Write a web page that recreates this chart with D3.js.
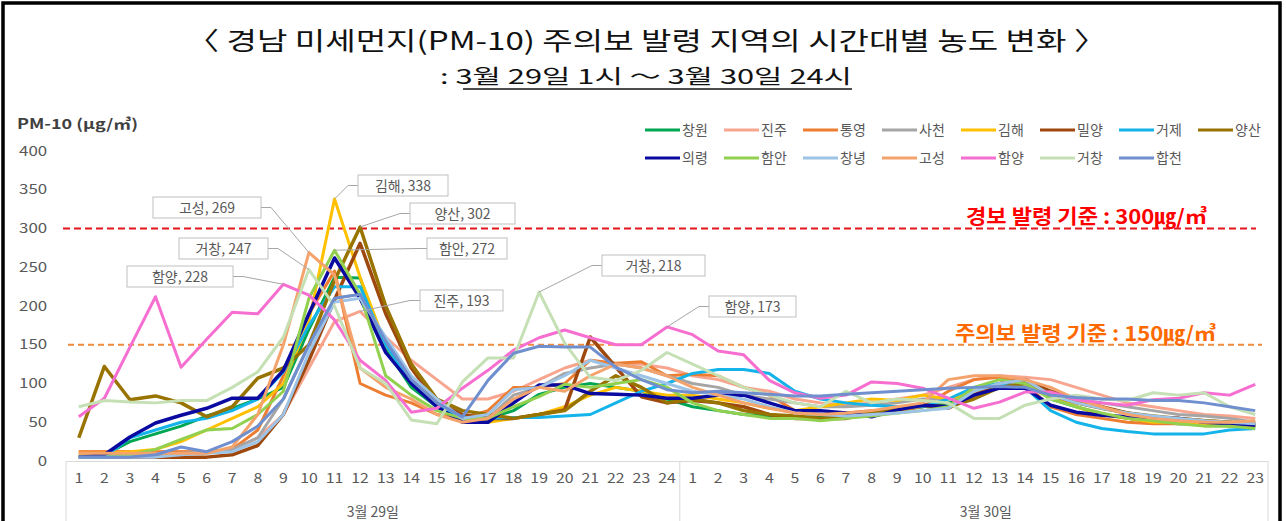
<!DOCTYPE html>
<html>
<head>
<meta charset="utf-8">
<script src="https://cdn.jsdelivr.net/npm/d3@7/dist/d3.min.js"></script>
<style>
body { margin: 0; background: #fff; }
text { font-family: "Noto Sans CJK KR", "Noto Sans", sans-serif; }
</style>
</head>
<body>
<svg width="1286" height="521"></svg>
<script>
// hours on the x axis : 3/29 1..24 , 3/30 1..23
var day1Hours = d3.range(1, 25)
var day2Hours = d3.range(1, 24)
var dayLabels = ["3월 29일", "3월 30일"]
var yTicks = [0, 50, 100, 150, 200, 250, 300, 350, 400]

var names = ["창원", "진주", "통영", "사천", "김해", "밀양", "거제", "양산",
             "의령", "함안", "창녕", "고성", "함양", "거창", "합천"]
var colors = ["#00a651", "#f8a58f", "#ed7d31", "#a5a5a5", "#ffc000", "#9e480e", "#14b4eb", "#997300",
              "#0a0aa0", "#92d050", "#9dc3e6", "#f4a36c", "#f66fd0", "#c5e0b4", "#6f8fcf"]

var changwon = [5, 8, 25, 35, 45, 58, 68, 80, 95, 170, 237, 236, 145, 95, 70, 58, 55, 65, 86, 95, 100, 95, 90, 80,
                70, 65, 60, 58, 56, 58, 60, 62, 65, 70, 75, 85, 100, 105, 80, 70, 60, 55, 50, 48, 48, 45, 45]
var jinju = [12, 12, 12, 12, 12, 12, 15, 30, 60, 120, 180, 193, 160, 130, 105, 80, 80, 90, 105, 120, 130, 124, 125, 120,
             110, 105, 95, 90, 80, 75, 72, 75, 80, 85, 95, 105, 110, 108, 105, 95, 85, 75, 70, 65, 60, 58, 55]
var tongyeong = [12, 12, 12, 12, 12, 12, 15, 40, 110, 190, 245, 100, 85, 75, 60, 55, 65, 95, 95, 100, 130, 126, 128, 110,
                 112, 110, 95, 85, 65, 60, 62, 65, 65, 70, 90, 105, 108, 100, 70, 60, 55, 50, 48, 48, 48, 48, 50]
var sacheon = [8, 8, 8, 8, 10, 12, 15, 30, 80, 150, 210, 215, 150, 105, 80, 60, 55, 85, 95, 113, 120, 125, 120, 110,
               100, 95, 85, 80, 75, 70, 70, 72, 75, 80, 80, 85, 95, 100, 90, 80, 75, 70, 65, 60, 58, 55, 50]
var gimhae = [10, 10, 12, 15, 25, 40, 55, 70, 100, 180, 338, 237, 150, 100, 70, 58, 50, 55, 60, 70, 85, 95, 90, 85,
              85, 80, 75, 68, 65, 70, 75, 80, 78, 85, 80, 90, 100, 105, 85, 70, 60, 55, 50, 50, 48, 45, 45]
var miryang = [5, 5, 5, 5, 5, 5, 8, 20, 60, 130, 208, 281, 190, 120, 75, 60, 55, 55, 60, 66, 160, 121, 83, 75,
               78, 75, 70, 60, 55, 55, 55, 62, 68, 72, 68, 85, 100, 105, 90, 80, 70, 62, 55, 55, 52, 50, 45]
var geoje = [5, 5, 30, 40, 50, 55, 65, 80, 115, 175, 225, 225, 150, 100, 70, 56, 55, 56, 56, 58, 60, 75, 90, 100,
             113, 118, 118, 113, 90, 80, 75, 72, 70, 70, 80, 95, 100, 95, 65, 50, 42, 38, 35, 35, 35, 40, 42]
var yangsan = [30, 122, 79, 84, 75, 57, 70, 107, 120, 150, 233, 302, 200, 125, 80, 65, 60, 55, 60, 65, 90, 110, 95, 75,
               80, 75, 65, 60, 58, 55, 58, 62, 68, 72, 70, 80, 95, 100, 85, 75, 68, 62, 58, 55, 52, 50, 48]
var uiryeong = [5, 8, 31, 49, 59, 68, 81, 81, 117, 190, 262, 210, 140, 100, 70, 50, 50, 75, 98, 98, 87, 86, 85, 81,
                81, 85, 85, 75, 65, 65, 62, 57, 66, 72, 70, 85, 94, 94, 72, 63, 59, 57, 55, 55, 50, 48, 46]
var haman = [5, 5, 8, 15, 28, 40, 42, 60, 90, 210, 272, 215, 110, 85, 65, 55, 55, 70, 83, 99, 95, 100, 105, 95,
             75, 65, 60, 55, 55, 52, 55, 58, 62, 65, 70, 95, 105, 100, 80, 70, 62, 55, 52, 48, 45, 45, 42]
var changnyeong = [5, 5, 5, 5, 8, 10, 12, 25, 60, 140, 205, 210, 160, 110, 80, 55, 60, 92, 95, 110, 130, 120, 110, 100,
                   90, 85, 80, 70, 62, 60, 58, 60, 62, 65, 68, 90, 100, 105, 85, 75, 68, 62, 58, 55, 52, 50, 48]
var goseong = [10, 10, 10, 10, 10, 10, 18, 60, 150, 269, 240, 120, 95, 80, 60, 50, 55, 80, 95, 90, 110, 125, 120, 110,
               95, 85, 75, 68, 62, 60, 62, 65, 70, 75, 105, 110, 110, 105, 95, 80, 70, 60, 55, 52, 50, 50, 52]
var hamyang = [57, 81, 147, 212, 121, 157, 192, 190, 228, 214, 182, 130, 104, 63, 68, 94, 117, 143, 159, 169, 159, 150, 150, 173,
               163, 142, 137, 104, 88, 81, 85, 102, 100, 94, 81, 68, 76, 89, 89, 79, 75, 72, 79, 81, 88, 85, 99]
var geochang = [70, 78, 76, 75, 78, 78, 95, 115, 160, 247, 200, 120, 100, 53, 48, 102, 133, 133, 218, 152, 108, 104, 117, 140,
                125, 110, 95, 85, 75, 70, 90, 75, 80, 78, 75, 55, 55, 72, 80, 85, 80, 78, 88, 85, 88, 70, 60]
var hapcheon = [5, 5, 5, 8, 18, 12, 25, 45, 80, 150, 210, 215, 155, 105, 75, 57, 104, 139, 148, 147, 147, 121, 105, 92,
                88, 90, 88, 86, 84, 84, 86, 88, 90, 92, 94, 95, 96, 95, 85, 82, 80, 80, 78, 78, 75, 70, 65]

var seriesValues = [changwon, jinju, tongyeong, sacheon, gimhae, miryang, geoje, yangsan,
                    uiryeong, haman, changnyeong, goseong, hamyang, geochang, hapcheon]

// data labels : series name, day (0/1), hour
var calloutNames = ["고성", "거창", "함양", "김해", "양산", "함안", "진주", "거창", "함양"]
var calloutDay = [0, 0, 0, 0, 0, 0, 0, 0, 0]
var calloutHour = [10, 10, 9, 11, 12, 11, 12, 19, 24]
var calloutBox = [[153, 197, 108], [179, 238, 89], [127, 266, 106], [358, 175, 90], [410, 203, 105],
                  [427, 238, 80], [420, 290, 83], [602, 255, 103], [709, 296, 87]]

var limits = [300, 150]
var limitLabels = ["경보 발령 기준 : 300㎍/㎥", "주의보 발령 기준 : 150㎍/㎥"]

var svg = d3.select("svg")

var cats = day1Hours.map(function (h) { return "0-" + h }).concat(day2Hours.map(function (h) { return "1-" + h }))

var x = d3.scaleBand().domain(cats).range([66, 1268])
var y = d3.scaleLinear().domain([0, 400]).range([461, 151])
function px(i) { return x(cats[i]) + x.bandwidth() / 2 }

// outer frame
svg.append("rect").attr("x", 3).attr("y", 3).attr("width", 1277).attr("height", 540)
    .attr("fill", "none").attr("stroke", "#000").attr("stroke-width", 3.5)

// titles
svg.append("text").attr("x", 186).attr("y", 50)
    .attr("textLength", 921).attr("lengthAdjust", "spacingAndGlyphs")
    .style("font-size", "25px").attr("fill", "#111")
    .text("〈 경남 미세먼지(PM-10) 주의보 발령 지역의 시간대별 농도 변화 〉")
svg.append("text").attr("x", 440).attr("y", 84)
    .attr("textLength", 412).attr("lengthAdjust", "spacingAndGlyphs")
    .style("font-size", "20px").attr("fill", "#111")
    .text(": 3월 29일 1시 ～ 3월 30일 24시")
svg.append("line").attr("x1", 463).attr("x2", 852).attr("y1", 89).attr("y2", 89)
    .attr("stroke", "#111").attr("stroke-width", 1.5)

// y axis
svg.append("text").attr("x", 17).attr("y", 129)
    .attr("textLength", 121).attr("lengthAdjust", "spacingAndGlyphs")
    .style("font-size", "14px").style("font-weight", "bold").attr("fill", "#404040")
    .text("PM-10 (μg/㎥)")

var yAxis = svg.append("g").attr("transform", "translate(66,0)")
    .call(d3.axisLeft(y).tickValues(yTicks).tickSize(0).tickPadding(15))
yAxis.select(".domain").remove()
yAxis.selectAll("text").style("font-size", "13px").attr("fill", "#595959")
    .attr("transform", "scale(1.3,1)").attr("x", -14.5)

// x axis
var xAxis = svg.append("g").attr("transform", "translate(0,461)")
    .call(d3.axisBottom(x).tickSize(0).tickPadding(13).tickFormat(function (d) { return d.split("-")[1] }))
xAxis.select(".domain").attr("stroke", "#d9d9d9")
xAxis.selectAll("text").style("font-size", "13px").attr("fill", "#595959")
    .attr("transform", "scale(1.22,1)")

var seps = [66, x("1-1"), 1268]
svg.selectAll(".sep").data(seps).enter().append("line")
    .attr("x1", function (d) { return d }).attr("x2", function (d) { return d })
    .attr("y1", 461).attr("y2", 521).attr("stroke", "#d9d9d9")

svg.selectAll(".daylab").data(dayLabels).enter().append("text")
    .attr("x", function (d, i) { return (seps[i] + seps[i + 1]) / 2 + (i ? 12 : 0) })
    .attr("y", 517).attr("text-anchor", "middle")
    .style("font-size", "14px").attr("fill", "#595959")
    .text(function (d) { return d })

// warning limits
var limitColors = ["#e3161d", "#f08a3c"]
var limitText = ["#ff0000", "#ff6a00"]
svg.selectAll(".limit").data(limits).enter().append("line")
    .attr("x1", function (d, i) { return i ? 68 : 63 }).attr("x2", function (d, i) { return i ? 1262 : 1256 })
    .attr("y1", function (d) { return y(d) }).attr("y2", function (d) { return y(d) })
    .attr("stroke", function (d, i) { return limitColors[i] })
    .attr("stroke-width", function (d, i) { return i ? 1.8 : 2.2 })
    .attr("stroke-dasharray", function (d, i) { return i ? "6,4" : "7,4" })
svg.selectAll(".limitlab").data(limitLabels).enter().append("text")
    .attr("x", function (d, i) { return i ? 955 : 966 })
    .attr("y", function (d, i) { return i ? 341 : 224 })
    .attr("textLength", function (d, i) { return i ? 261 : 241 }).attr("lengthAdjust", "spacingAndGlyphs")
    .style("font-size", "20px").style("font-weight", "bold")
    .attr("fill", function (d, i) { return limitText[i] })
    .text(function (d) { return d })

// lines
var line = d3.line().x(function (d, i) { return px(i) }).y(function (d) { return y(d) })
svg.append("g").selectAll("path").data(seriesValues).enter().append("path")
    .attr("d", line)
    .attr("fill", "none")
    .attr("stroke", function (d, i) { return colors[i] })
    .attr("stroke-width", function (d, i) { return (i == 5 || i == 7 || i == 8) ? 3.5 : 3 })
    .attr("stroke-linejoin", "round")

// callouts
calloutNames.forEach(function (n, k) {
    var s = names.indexOf(n)
    var idx = calloutDay[k] * 24 + calloutHour[k] - 1
    var v = seriesValues[s][idx]
    var cx = px(idx), cy = y(v)
    var b = calloutBox[k]
    var bh = 21
    var left = b[0] > cx
    var ex = left ? b[0] : b[0] + b[2]
    var ey = b[1] + bh / 2
    var hx = left ? ex - 10 : ex + 10
    svg.append("path")
        .attr("d", "M" + ex + "," + ey + "L" + hx + "," + ey + "L" + cx + "," + cy)
        .attr("fill", "none").attr("stroke", "#a6a6a6").attr("stroke-width", 1)
    svg.append("rect").attr("x", b[0]).attr("y", b[1]).attr("width", b[2]).attr("height", bh)
        .attr("fill", "#fff").attr("stroke", "#bfbfbf")
    svg.append("text").attr("x", b[0] + b[2] / 2).attr("y", b[1] + 15.5)
        .attr("text-anchor", "middle").style("font-size", "14px").attr("fill", "#595959")
        .text(n + ", " + v)
})

// legend
var legend = svg.selectAll(".legend").data(names).enter().append("g")
    .attr("transform", function (d, i) {
        var row = i < 8 ? 0 : 1, col = i < 8 ? i : i - 8
        return "translate(" + (645 + col * 79) + "," + (130 + row * 28) + ")"
    })
legend.append("line").attr("x1", 0).attr("x2", 35).attr("y1", 0).attr("y2", 0)
    .attr("stroke", function (d, i) { return colors[i] }).attr("stroke-width", 3)
legend.append("text").attr("x", 37).attr("y", 5)
    .style("font-size", "14px").attr("fill", "#595959")
    .text(function (d) { return d })
</script>
</body>
</html>
